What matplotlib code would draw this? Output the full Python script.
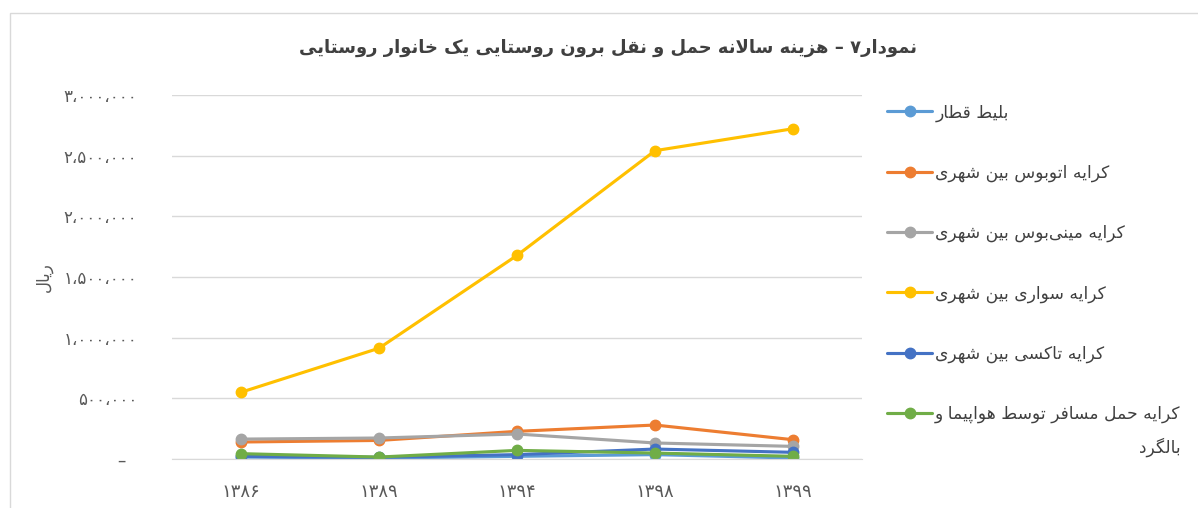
import matplotlib
matplotlib.use('Agg')
import matplotlib.pyplot as plt
from matplotlib.ticker import FuncFormatter
from matplotlib.patches import Rectangle

plt.rcParams['font.family'] = ['DejaVu Sans']

# data (ریال)
years = ['1386', '1389', '1394', '1398', '1399']
train = [16000, 8000, 22000, 36000, 8000]
bus = [140000, 153000, 228000, 280000, 159000]
minibus = [164000, 173000, 206000, 132000, 104000]
savari = [550000, 913000, 1678000, 2541000, 2722000]
taxi = [22000, 14000, 36000, 82000, 55000]
plane = [44000, 16000, 71000, 49000, 22000]

labels = ['بلیط قطار',
          'کرایه اتوبوس بین شهری',
          'کرایه مینی\u200cبوس بین شهری',
          'کرایه سواری بین شهری',
          'کرایه تاکسی بین شهری',
          'کرایه حمل مسافر توسط هواپیما و']
label_tail = 'بالگرد'
colors = ['#5B9BD5', '#ED7D31', '#A5A5A5', '#FFC000', '#4472C4', '#70AD47']
title = 'نمودار۷ – هزینه سالانه حمل و نقل برون روستایی یک خانوار روستایی'
ylab = 'ریال'

# simple arabic/persian shaping (isolated, final, initial, medial)
FORMS = {
    'ا': 'FE8D FE8E', 'ب': 'FE8F FE90 FE91 FE92', 'ت': 'FE95 FE96 FE97 FE98',
    'ث': 'FE99 FE9A FE9B FE9C', 'ج': 'FE9D FE9E FE9F FEA0', 'ح': 'FEA1 FEA2 FEA3 FEA4',
    'خ': 'FEA5 FEA6 FEA7 FEA8', 'د': 'FEA9 FEAA', 'ذ': 'FEAB FEAC', 'ر': 'FEAD FEAE',
    'ز': 'FEAF FEB0', 'س': 'FEB1 FEB2 FEB3 FEB4', 'ش': 'FEB5 FEB6 FEB7 FEB8',
    'ص': 'FEB9 FEBA FEBB FEBC', 'ض': 'FEBD FEBE FEBF FEC0', 'ط': 'FEC1 FEC2 FEC3 FEC4',
    'ظ': 'FEC5 FEC6 FEC7 FEC8', 'ع': 'FEC9 FECA FECB FECC', 'غ': 'FECD FECE FECF FED0',
    'ف': 'FED1 FED2 FED3 FED4', 'ق': 'FED5 FED6 FED7 FED8', 'ک': 'FB8E FB8F FB90 FB91',
    'گ': 'FB92 FB93 FB94 FB95', 'ل': 'FEDD FEDE FEDF FEE0', 'م': 'FEE1 FEE2 FEE3 FEE4',
    'ن': 'FEE5 FEE6 FEE7 FEE8', 'ه': 'FEE9 FEEA FEEB FEEC', 'و': 'FEED FEEE',
    'ی': 'FBFC FBFD FBFE FBFF', 'پ': 'FB56 FB57 FB58 FB59', 'چ': 'FB7A FB7B FB7C FB7D',
    'ژ': 'FB8A FB8B',
}
FORMS = {k: [chr(int(h, 16)) for h in v.split()] for k, v in FORMS.items()}


def links_fwd(c):
    return c in FORMS and len(FORMS[c]) == 4


def shape_line(s):
    out = []
    i = 0
    while i < len(s):
        c = s[i]
        if c not in FORMS:
            if c != '\u200c':
                out.append(c)
            i += 1
            continue
        prev = s[i - 1] if i > 0 else ''
        jp = links_fwd(prev)
        if c == 'ل' and i + 1 < len(s) and s[i + 1] == 'ا':
            out.append('\uFEFC' if jp else '\uFEFB')
            i += 2
            continue
        nxt = s[i + 1] if i + 1 < len(s) else ''
        jn = links_fwd(c) and nxt in FORMS
        f = FORMS[c]
        if jp and jn:
            out.append(f[3])
        elif jp:
            out.append(f[1])
        elif jn:
            out.append(f[2])
        else:
            out.append(f[0])
        i += 1
    return ''.join(out)[::-1]


def fa(s):
    return '\n'.join(shape_line(l) for l in s.split('\n'))


DIG = str.maketrans('0123456789,', '۰۱۲۳۴۵۶۷۸۹،')


def yfmt(v, pos):
    if v == 0:
        return '–  '
    return f'{int(v):,}'.translate(DIG)


fig = plt.figure(figsize=(11.98, 5.08), dpi=100)
fig.patches.append(Rectangle((10 / 1198, -0.1), 1.2, 1 - 13 / 508 + 0.1, transform=fig.transFigure,
                             fill=False, edgecolor='#D9D9D9', lw=1))
ax = fig.add_axes([172 / 1198, 1 - 459 / 508, 690 / 1198, 364 / 508])

x = list(range(len(years)))
series = [train, bus, minibus, savari, taxi, plane]
for vals, lab, col in zip(series, labels, colors):
    ax.plot(x, vals, color=col, lw=2.25, marker='o', markersize=7.5, label=fa(lab),
            solid_capstyle='round')

ax.set_xlim(-0.5, len(years) - 0.5)
ax.set_ylim(0, 3000000)
ax.set_yticks(range(0, 3000001, 500000))
ax.yaxis.set_major_formatter(FuncFormatter(yfmt))
ax.set_xticks(x)
ax.set_xticklabels([y.translate(DIG) for y in years])
ax.grid(axis='y', color='#D9D9D9', lw=1)
ax.set_axisbelow(True)
for s in ax.spines.values():
    s.set_visible(False)
ax.spines['bottom'].set_visible(True)
ax.spines['bottom'].set_color('#D9D9D9')
ax.tick_params(length=0, colors='#595959', labelsize=12)
ax.tick_params(axis='y', pad=25)
ax.tick_params(axis='x', pad=17, labelsize=13)
ax.set_ylabel(fa(ylab), color='#595959', fontsize=12, labelpad=8)

fig.text(608 / 1198, 1 - 48 / 508, fa(title), ha='center', va='center',
         fontsize=13, fontweight='bold', color='#404040')

leg = fig.legend(loc='upper left', bbox_to_anchor=(872 / 1198, 1 - 88 / 508), frameon=False,
                 fontsize=12.3, labelspacing=2.46, handlelength=2.6, handletextpad=0.2,
                 labelcolor='#404040')

# second line of the last legend entry, right-aligned under the first line
fig.canvas.draw()
bb = leg.get_texts()[-1].get_window_extent().transformed(fig.transFigure.inverted())
fig.text(bb.x1, bb.y0 - 0.028, fa(label_tail), ha='right', va='top',
         fontsize=12.3, color='#404040')

fig.savefig('out.png', dpi=100)
